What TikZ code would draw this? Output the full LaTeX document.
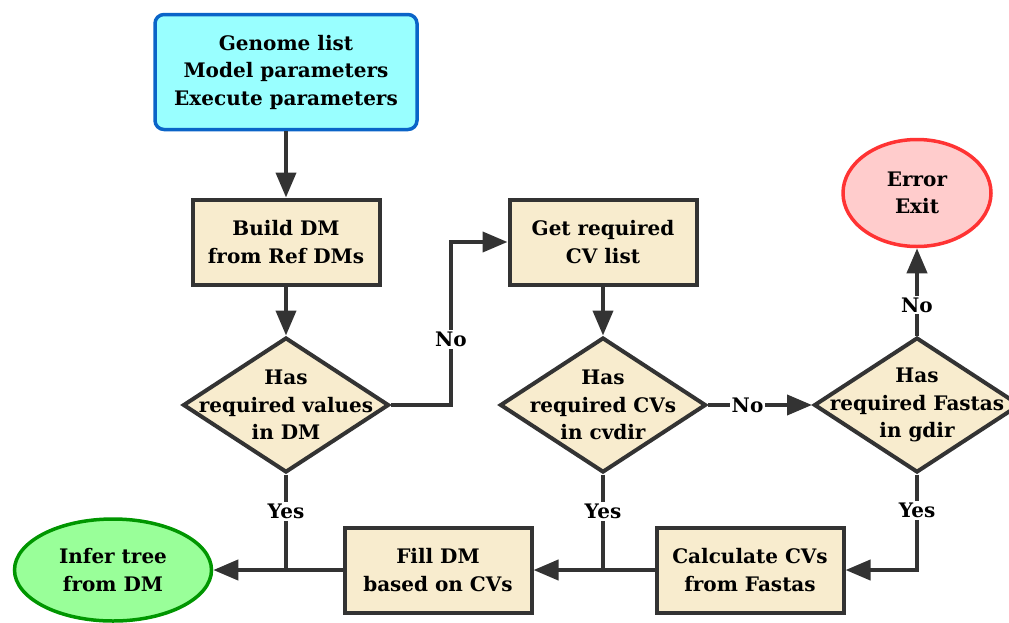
\documentclass[tikz,border=0pt]{standalone}
\usepackage{fontspec}
\setmainfont{DejaVu Serif}
\usepackage{tikz}
\usetikzlibrary{shapes.geometric,arrows.meta}

\definecolor{boxfill}{RGB}{248,236,206}
\definecolor{linegray}{RGB}{51,51,51}
\definecolor{inputfill}{RGB}{153,255,255}
\definecolor{inputline}{RGB}{10,100,200}
\definecolor{donefill}{RGB}{153,255,153}
\definecolor{doneline}{RGB}{0,150,0}
\definecolor{errfill}{RGB}{255,204,204}
\definecolor{errline}{RGB}{255,51,51}

\begin{document}
\begin{tikzpicture}[x=1pt,y=-1pt,
  every node/.style={font=\fontsize{20}{27.5}\selectfont\bfseries,align=center},
  inputbox/.style={rectangle,rounded corners=9pt,draw=inputline,fill=inputfill,line width=3.5pt,minimum width=262pt,minimum height=115pt},
  procbox/.style={rectangle,draw=linegray,fill=boxfill,line width=4pt,minimum width=187pt,minimum height=85pt},
  decision/.style={diamond,draw=linegray,fill=boxfill,line width=4pt,minimum width=206pt,minimum height=135pt,inner sep=0pt},
  terminal/.style={ellipse,line width=3.5pt,inner sep=0pt},
  flow/.style={draw=linegray,line width=4pt,-{Triangle[length=25pt,width=20pt]}},
  joint/.style={draw=linegray,line width=4pt},
  answer/.style={fill=white,inner sep=2pt}]
\useasboundingbox (0,0) rectangle (1009,622);

\node [inputbox] (input) at (286,72) {Genome list\\Model parameters\\Execute parameters};
\node [procbox] (build) at (286,242) {Build DM\\from Ref DMs};
\node [decision,label=center:{Has\\required values\\in DM}] (hasdm) at (286,405) {};
\node [procbox] (getcv) at (603,242) {Get required\\CV list};
\node [decision,label=center:{Has\\required CVs\\in cvdir}] (hascv) at (603,405) {};
\node [decision,label=center:{Has\\required Fastas\\in gdir}] (hasfa) at (917,405) {};
\node [terminal,draw=errline,fill=errfill,minimum width=148pt,minimum height=107pt] (error) at (917,193) {Error\\Exit};
\node [procbox] (calc) at (750,570) {Calculate CVs\\from Fastas};
\node [procbox] (fill) at (438,570) {Fill DM\\based on CVs};
\node [terminal,draw=doneline,fill=donefill,minimum width=197pt,minimum height=102pt] (infer) at (113,570) {Infer tree\\from DM};

% main line
\draw [flow] (input) -- (build);
\draw [flow] (build) -- (hasdm);
\draw [flow] (hasdm.east) -- ++(60,0) |- node [answer,pos=0.2] {No} (getcv.west);
\draw [flow] (getcv) -- (hascv);
\draw [flow] (hascv.east) -- node [answer,pos=0.38] {No} (hasfa.west);
\draw [flow] (hasfa.north) -- node [answer,pos=0.35] {No} (error.south);
\draw [flow] (hasfa.south) |- node [answer,pos=0.19] {Yes} (calc.east);
\draw [flow] (calc) -- (fill);
\draw [flow] (fill) -- (infer.east |- fill.west);

% yes branches joining the bottom line
\draw [joint] (hascv.south) -- node [answer,pos=0.39] {Yes} (hascv.south |- calc.west);
\draw [joint] (hasdm.south) -- node [answer,pos=0.39] {Yes} (hasdm.south |- fill.west);
\end{tikzpicture}
\end{document}
